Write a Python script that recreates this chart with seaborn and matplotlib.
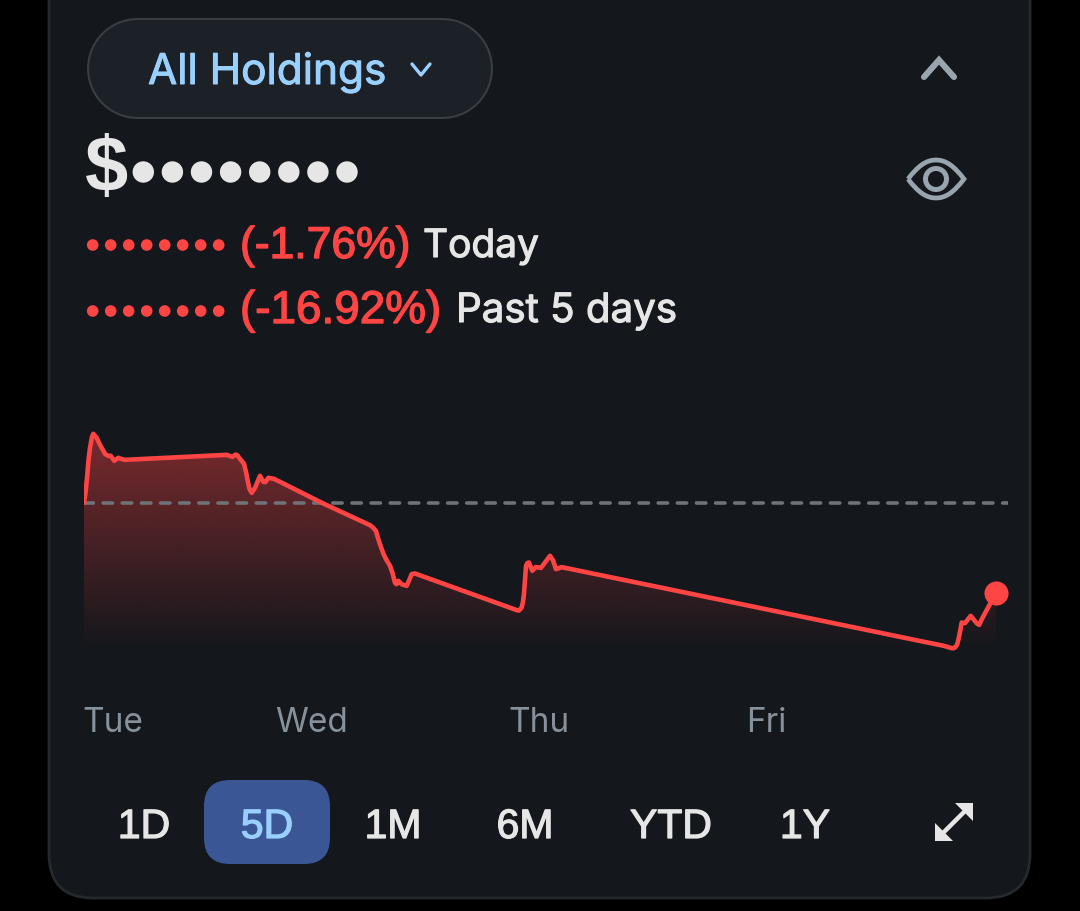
import matplotlib
matplotlib.use("Agg")
import matplotlib.pyplot as plt
import matplotlib.patheffects as pe
import numpy as np
import pandas as pd
import seaborn as sns
from matplotlib.patches import Circle, FancyBboxPatch, PathPatch, Polygon
from matplotlib.path import Path
from matplotlib.transforms import ScaledTranslation

# time position along the window, and % change against the previous close
times = [0, 1.5, 3, 4.5, 6, 8, 9.3, 11, 12.7, 16, 21, 24, 26.7, 30.3, 34.3, 37, 41,
         142.7, 148.3, 151.7, 153.5, 156, 158.5, 160, 162, 163.7, 165.5, 167.7, 171, 176, 179.3, 181.5, 184.3,
         190, 239.3, 286, 289.3, 292, 293.3, 296, 299.3, 302, 306, 308.5, 311, 312.5, 314.3, 317.7, 322.7,
         325, 327.7, 331, 432.7, 435, 437.7, 439, 440, 442, 443.5, 445, 448.3,
         451.7, 457, 466, 469, 472, 474.5, 477.7, 860, 867.7, 870, 872, 873.3, 875, 877.7, 881, 886.7,
         893, 895.3, 898, 912]
changes = [0, 1.9, 4.6, 8.0, 10.34, 12.4, 12.97, 12.6, 12.22, 10.9, 9.21, 8.84, 8.84, 7.90, 8.46, 8.27, 8.08,
           9.02, 8.65, 9.08, 8.9, 8.27, 7.7, 7.33, 5.8, 4.14, 2.6, 1.88, 2.82, 5.08, 3.95, 3.9, 4.70,
           4.51, -0.13, -4.2, -4.70, -5.3, -6.20, -7.8, -9.53, -10.6, -11.84, -13.2, -15.04, -15.3, -14.66, -15.32, -15.60,
           -14.6, -13.40, -13.29, -20.17, -20.25, -19.68, -18.6, -17.11, -11.84, -11.3, -11.22, -12.78,
           -12.09, -12.22, -9.96, -10.8, -12.46, -12.3, -12.09, -26.9, -27.32, -27.32, -27.0, -26.56, -25.2, -22.50, -22.62, -21.24,
           -22.7, -22.94, -21.8, -16.92]
day_labels = ["Tue", "Wed", "Thu", "Fri"]
day_ticks = [0, 193, 426, 664]
ranges = ["1D", "5D", "1M", "6M", "YTD", "1Y"]
range_x = [144, 267, 393, 525, 671, 805]

RED = "#ff4444"
BG = "#14171c"
LIGHT = "#e6e6e6"
GREY = "#98a4ae"
UI_FONT = "Inter"
NUM_FONT = "Liberation Sans"


def stroke(width, color):
    return [pe.withStroke(linewidth=width, foreground=color)]


sns.set_theme(style="dark", rc={"axes.grid": False})

W, H = 1080, 911
fig = plt.figure(figsize=(W / 100, H / 100), dpi=100, facecolor="black")

# page furniture, in pixel coordinates
ui = fig.add_axes([0, 0, 1, 1])
ui.set_xlim(0, W)
ui.set_ylim(H, 0)
ui.axis("off")

ui.add_patch(FancyBboxPatch((49, -60), 981, 958, boxstyle="round,pad=0,rounding_size=44",
                            fc=BG, ec="#25282d", lw=2))
# pill drawn as a thick round-capped line so the ends are true half circles
ui.plot([137, 442], [68, 68], color="#3a3f45", lw=101 * 0.72, solid_capstyle="round")
ui.plot([137, 442], [68, 68], color="#1c2128", lw=97 * 0.72, solid_capstyle="round")
ui.text(148, 84, "All Holdings", color="#9ad0ff", fontsize=30.5, family=UI_FONT, va="baseline",
        path_effects=stroke(0.7, "#9ad0ff"))
ui.plot([412, 421, 430], [64, 75, 64], color="#9ad0ff", lw=2.4, solid_capstyle="round")
ui.plot([924, 939, 954], [77, 60, 77], color=GREY, lw=4.4, solid_capstyle="round",
        solid_joinstyle="miter")

# eye icon
eye = Path([(908, 179), (918, 166), (926, 160), (936, 160), (946, 160), (954, 166), (964, 179),
            (954, 192), (946, 198), (936, 198), (926, 198), (918, 192), (908, 179)],
           [Path.MOVETO] + [Path.CURVE4] * 12)
ui.add_patch(PathPatch(eye, fc="none", ec=GREY, lw=3.4))
ui.add_patch(Circle((936, 179), 10.5, fc="none", ec=GREY, lw=3.6))

ui.text(85, 191, "$", color=LIGHT, fontsize=56, family=NUM_FONT, weight="bold", va="baseline")
for i in range(8):
    ui.add_patch(Circle((143.3 + 29.1 * i, 172), 10.7, fc=LIGHT, ec="none"))
for y in (245, 311):
    for i in range(8):
        ui.add_patch(Circle((92.7 + 18 * i, y), 5.8, fc=RED, ec="none"))

ui.text(240, 258, "(-1.76%)", color=RED, fontsize=32, family=NUM_FONT, va="baseline",
        path_effects=stroke(1.0, RED))
ui.text(240, 323, "(-16.92%)", color=RED, fontsize=33, family=NUM_FONT, va="baseline",
        path_effects=stroke(1.0, RED))
ui.text(423, 257, "Today", color=LIGHT, fontsize=28, family=UI_FONT, va="baseline",
        path_effects=stroke(0.8, LIGHT))
ui.text(456, 322, "Past 5 days", color=LIGHT, fontsize=29, family=UI_FONT, va="baseline",
        path_effects=stroke(0.8, LIGHT))

# range selector
ui.add_patch(FancyBboxPatch((204, 780), 126, 84, boxstyle="round,pad=0,rounding_size=26",
                            fc="#3a5694", ec="none"))
for label, x in zip(ranges, range_x):
    color = "#9ad0ff" if label == "5D" else LIGHT
    ui.text(x, 838, label, color=color, fontsize=29.5, family=NUM_FONT, ha="center", va="baseline",
            path_effects=stroke(0.9, color))

# expand icon
ui.plot([941, 967], [835, 809], color=LIGHT, lw=3.2)
ui.add_patch(Polygon([(973, 803), (973, 821), (955, 803)], fc=LIGHT, ec="none"))
ui.add_patch(Polygon([(935, 841), (935, 823), (953, 841)], fc=LIGHT, ec="none"))

# the chart itself: 1 x unit = 1 px, baseline 0% sits at y=502
ax = fig.add_axes([84 / W, 1 - 660 / H, 924 / W, 240 / H])
ax.patch.set_alpha(0)
for s in ax.spines.values():
    s.set_visible(False)
floor = -27.8

df = pd.DataFrame({"time": times, "change": changes})

poly = ax.fill_between(df["time"], df["change"], floor, color="none", lw=0)
grad = np.zeros((256, 1, 4))
grad[..., :3] = matplotlib.colors.to_rgb(RED)
grad[:, 0, 3] = np.linspace(0.434, 0, 256)
im = ax.imshow(grad, extent=[0, 912, floor, max(changes)], aspect="auto", zorder=1,
               interpolation="bilinear")
im.set_clip_path(poly.get_paths()[0], transform=ax.transData)

ax.axhline(0, color="#6e7378", lw=2.6, dashes=(2.6, 2.7), dash_capstyle="round", zorder=2)
sns.lineplot(data=df, x="time", y="change", color=RED, lw=3.3, ax=ax, zorder=3,
             estimator=None, sort=False)
ax.scatter(times[-1], changes[-1], s=300, color=RED, lw=0, zorder=4, clip_on=False)

ax.set_xlim(0, 924)
ax.set_ylim(-29.55, 15.57)
ax.set_xlabel("")
ax.set_ylabel("")
ax.set_yticks([])
ax.set_xticks(day_ticks)
ax.set_xticklabels(day_labels, color="#87919b", fontsize=24, family=UI_FONT, ha="left")
ax.tick_params(axis="x", length=0, pad=34)
shift = ScaledTranslation(-2 / 100, 0, fig.dpi_scale_trans)
for lbl in ax.get_xticklabels():
    lbl.set_transform(lbl.get_transform() + shift)

fig.savefig("out.png", dpi=100, facecolor="black")
